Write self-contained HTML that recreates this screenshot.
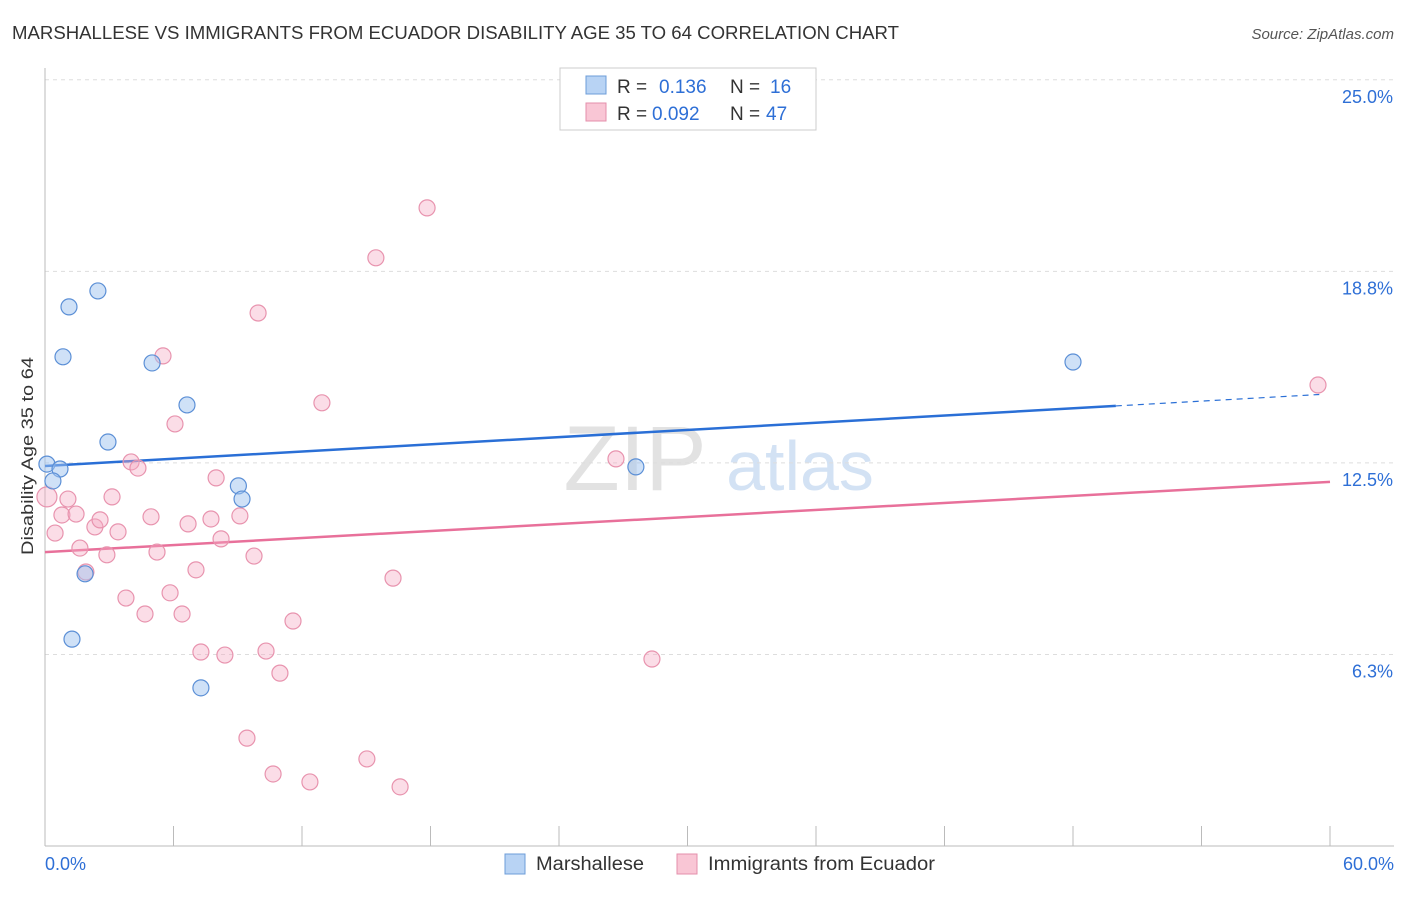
<!DOCTYPE html>
<html><head><meta charset="utf-8"><style>
body{margin:0;background:#fff;font-family:"Liberation Sans",sans-serif;}
svg text{font-family:"Liberation Sans",sans-serif;}
</style></head><body>
<svg id="chart" width="1406" height="892" xmlns="http://www.w3.org/2000/svg">
<text x="12" y="39" font-size="18" fill="#333" textLength="887" lengthAdjust="spacingAndGlyphs">MARSHALLESE VS IMMIGRANTS FROM ECUADOR DISABILITY AGE 35 TO 64 CORRELATION CHART</text>
<text x="1394" y="39" font-size="15" fill="#555" font-style="italic" text-anchor="end">Source: ZipAtlas.com</text>
<text x="33" y="456" font-size="17" fill="#333" text-anchor="middle" textLength="198" lengthAdjust="spacingAndGlyphs" transform="rotate(-90 33 456)">Disability Age 35 to 64</text>
<g><text x="635" y="490" font-size="92" fill="#e2e2e2" font-family="Liberation Serif" text-anchor="middle">ZIP</text><text x="800" y="490" font-size="70" fill="#d3e2f4" text-anchor="middle">atlas</text></g>
<g id="grid"></g><g id="axes"></g><g id="trends"></g><g id="pts"></g>
<g>
<rect x="560" y="68" width="256" height="62" fill="#fff" stroke="#ccc"/>
<rect x="586" y="76" width="20" height="18" fill="#b8d3f4" stroke="#6d9cd8"/>
<text x="617" y="93" font-size="19" fill="#333">R = </text><text x="659" y="93" font-size="19" fill="#2e6fd6">0.136</text>
<text x="730" y="93" font-size="19" fill="#333">N = </text><text x="770" y="93" font-size="19" fill="#2e6fd6">16</text>
<rect x="586" y="103" width="20" height="18" fill="#f9c6d5" stroke="#e48fab"/>
<text x="617" y="120" font-size="19" fill="#333">R = </text><text x="652" y="120" font-size="19" fill="#2e6fd6">0.092</text>
<text x="730" y="120" font-size="19" fill="#333">N = </text><text x="766" y="120" font-size="19" fill="#2e6fd6">47</text>
</g>
<g>
<rect x="505" y="854" width="20" height="20" fill="#b8d3f4" stroke="#6d9cd8"/>
<text x="536" y="870" font-size="19" fill="#333" textLength="108" lengthAdjust="spacingAndGlyphs">Marshallese</text>
<rect x="677" y="854" width="20" height="20" fill="#f9c6d5" stroke="#e48fab"/>
<text x="708" y="870" font-size="19" fill="#333" textLength="227" lengthAdjust="spacingAndGlyphs">Immigrants from Ecuador</text>
</g>
</svg>
<script>
const yTicks=[25,18.75,12.5,6.25];
const yTickLabels=["25.0%","18.8%","12.5%","6.3%"];
const xTickLabels=["0.0%","60.0%"];
const blueX=[0.09,0.70,0.37,1.12,2.47,0.84,2.94,5.00,6.63,9.03,9.20,1.87,1.26,7.28,27.59,48.0];
const blueY=[12.46,12.30,11.91,17.59,18.11,15.96,13.18,15.76,14.39,11.75,11.32,8.88,6.75,5.16,12.37,15.79];
const pinkX=[0.09,0.47,1.07,0.79,1.45,1.63,1.91,2.33,2.57,2.89,3.13,3.41,3.78,4.02,4.34,4.67,4.95,5.23,5.51,5.84,6.07,6.40,6.68,7.05,7.28,7.75,7.99,8.22,8.40,9.10,9.43,9.76,9.95,10.32,10.65,10.97,11.58,12.37,12.93,15.03,15.45,16.25,16.58,17.84,26.66,28.34,59.44];
const pinkY=[11.39,10.21,11.32,10.80,10.83,9.72,8.94,10.41,10.64,9.50,11.39,10.25,8.09,12.53,12.33,7.57,10.74,9.59,15.99,8.26,13.77,7.57,10.51,9.01,6.33,10.67,12.01,10.02,6.23,10.77,3.52,9.46,17.39,6.36,2.35,5.64,7.34,2.09,14.46,2.84,19.19,8.74,1.93,20.82,12.63,6.10,15.04];
const blueTrend=[12.40,14.75];
const pinkTrend=[9.59,11.88];
const X=v=>45+v/60*1285, Y=v=>846-v*30.65;
const NS="http://www.w3.org/2000/svg";
function mk(p,t,a){const e=document.createElementNS(NS,t);for(const k in a)e.setAttribute(k,a[k]);p.appendChild(e);return e;}
const grid=document.getElementById('grid'),axes=document.getElementById('axes'),tr=document.getElementById('trends'),pts=document.getElementById('pts');
yTicks.forEach((t,i)=>{
 const l=mk(grid,'line',{x1:45,x2:1394,y1:Y(t),y2:Y(t),stroke:'#ddd','stroke-dasharray':'4,4'});
 
 
 const tx=mk(axes,'text',{x:1393,y:Y(t)+23,'font-size':18,fill:'#2e6fd6','text-anchor':'end'});tx.textContent=yTickLabels[i];
 
 
});
const ax=mk(axes,'line',{x1:45,x2:1394,y1:846,y2:846,stroke:'#bbb'});


const ay=mk(axes,'line',{x1:45,x2:45,y1:68,y2:846,stroke:'#bbb'});


for(let i=0;i<=10;i++){const t=mk(axes,'line',{x1:X(i*6),x2:X(i*6),y1:826,y2:846,stroke:'#bbb'});
 
 }
const xl0=mk(axes,'text',{x:45,y:870,'font-size':18,fill:'#2e6fd6'});xl0.textContent=xTickLabels[0];


const xl1=mk(axes,'text',{x:1394,y:870,'font-size':18,fill:'#2e6fd6','text-anchor':'end'});xl1.textContent=xTickLabels[1];


const bv=x=>blueTrend[0]+(blueTrend[1]-blueTrend[0])*x/60;
const b1=mk(tr,'line',{x1:X(0),y1:Y(bv(0)),x2:X(50),y2:Y(bv(50)),stroke:'#2a6fd6','stroke-width':2.5});


const b2=mk(tr,'line',{x1:X(50),y1:Y(bv(50)),x2:X(59.5),y2:Y(bv(59.5)),stroke:'#2a6fd6','stroke-width':1.2,'stroke-dasharray':'6,5'});


const p1=mk(tr,'line',{x1:X(0),y1:Y(pinkTrend[0]),x2:X(60),y2:Y(pinkTrend[1]),stroke:'#e8709a','stroke-width':2.5});


pinkX.forEach((x,i)=>{const c=mk(pts,'circle',{cx:X(x),cy:Y(pinkY[i]),r:i==0?10:8,fill:'rgba(244,170,195,0.4)',stroke:'#e893ae','stroke-width':1.2});
 
 });
blueX.forEach((x,i)=>{const c=mk(pts,'circle',{cx:X(x),cy:Y(blueY[i]),r:8,fill:'rgba(160,195,240,0.5)',stroke:'#5b8fd6','stroke-width':1.2});
 
 });
</script>
</body></html>
